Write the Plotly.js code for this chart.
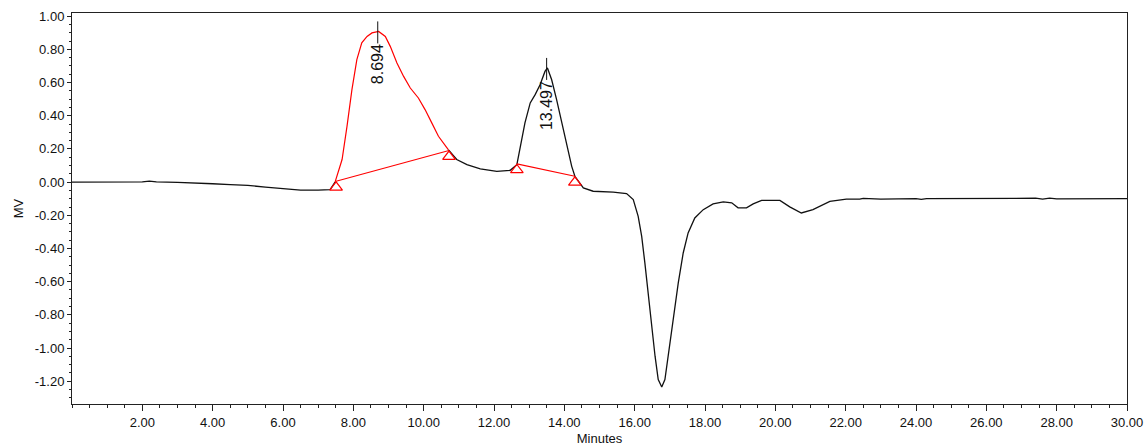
<!DOCTYPE html>
<html>
<head>
<meta charset="utf-8">
<script src="https://cdn.plot.ly/plotly-3.0.1.min.js"></script>
<style>html,body{margin:0;padding:0;background:#fff;}#chart{width:1144px;height:447px;}</style>
</head>
<body>
<div id="chart"></div>
<script>
// ---- Data ----
const timeMin = [0.0, 0.5, 1.0, 1.5, 2.0, 2.2, 2.4, 3.0, 3.5, 4.0, 4.5, 5.0, 5.5, 6.0, 6.5, 7.0, 7.34,
  7.48, 7.68, 7.82, 7.96, 8.10, 8.24, 8.39, 8.53, 8.72, 8.91, 9.05, 9.24, 9.43, 9.62, 9.85, 10.04, 10.23, 10.42, 10.70,
  10.94, 11.23, 11.61, 12.08, 12.46, 12.65,
  12.74, 12.88, 13.03, 13.17, 13.31, 13.45, 13.52, 13.64, 13.78, 13.93, 14.07, 14.21, 14.30, 14.54, 14.82, 15.39,
  15.77, 15.96, 16.10, 16.20, 16.29, 16.39, 16.48, 16.58, 16.67, 16.77, 16.86, 16.95, 17.10, 17.24, 17.38, 17.52,
  17.71, 17.95, 18.23, 18.52, 18.76, 18.94, 19.18, 19.37, 19.61, 20.13, 20.41, 20.74, 21.07, 21.55, 22.02,
  22.4, 22.5, 23.0, 24.0, 24.15, 24.3, 25.0, 26.0, 27.0, 27.4, 27.6, 27.8, 28.0, 29.0, 30.0];
const signalMV = [0.0, 0.0, 0.0, 0.0, 0.002, 0.006, 0.002, -0.002, -0.004, -0.01, -0.015, -0.02, -0.03, -0.04, -0.048, -0.048, -0.045,
  0.0, 0.136, 0.336, 0.557, 0.738, 0.839, 0.878, 0.899, 0.908, 0.878, 0.818, 0.718, 0.637, 0.567, 0.507, 0.437, 0.357, 0.276, 0.196,
  0.136, 0.105, 0.08, 0.065, 0.071, 0.105,
  0.196, 0.357, 0.477, 0.527, 0.587, 0.667, 0.688, 0.617, 0.497, 0.357, 0.216, 0.095, 0.035, -0.035, -0.055, -0.06,
  -0.069, -0.105, -0.206, -0.327, -0.487, -0.688, -0.889, -1.049, -1.19, -1.234, -1.19, -1.049, -0.808, -0.607, -0.427, -0.306,
  -0.216, -0.166, -0.131, -0.119, -0.125, -0.155, -0.155, -0.131, -0.11, -0.11, -0.149, -0.186, -0.166, -0.116, -0.103,
  -0.103, -0.098, -0.102, -0.100, -0.104, -0.100, -0.100, -0.099, -0.100, -0.097, -0.103, -0.097, -0.101, -0.100, -0.100];

// integrated first peak (drawn in red)
const peak1Time = [7.48, 7.68, 7.82, 7.96, 8.10, 8.24, 8.39, 8.53, 8.72, 8.91, 9.05, 9.24, 9.43, 9.62, 9.85, 10.04, 10.23, 10.42, 10.70];
const peak1MV   = [0.0, 0.136, 0.336, 0.557, 0.738, 0.839, 0.878, 0.899, 0.908, 0.878, 0.818, 0.718, 0.637, 0.567, 0.507, 0.437, 0.357, 0.276, 0.196];

// integration baselines (start / end points)
const base1Time = [7.51, 10.72];
const base1MV   = [0.005, 0.19];
const base2Time = [12.65, 14.30];
const base2MV   = [0.11, 0.035];

// peak retention-time labels
const peakLabels = ["8.694", "13.497"];
const peakTimes  = [8.694, 13.497];
const peakApexMV = [0.908, 0.688];

// axis ticks
const xTickVals = [2, 4, 6, 8, 10, 12, 14, 16, 18, 20, 22, 24, 26, 28, 30];
const xTickText = ["2.00","4.00","6.00","8.00","10.00","12.00","14.00","16.00","18.00","20.00","22.00","24.00","26.00","28.00","30.00"];
const yTickVals = [1.0, 0.8, 0.6, 0.4, 0.2, 0.0, -0.2, -0.4, -0.6, -0.8, -1.0, -1.2];
const yTickText = ["1.00","0.80","0.60","0.40","0.20","0.00","-0.20","-0.40","-0.60","-0.80","-1.00","-1.20"];

// ---- Layout constants ----
const W = 1144, H = 447;
const margin = {l: 72, r: 17, t: 13, b: 43, pad: 0};
const yRange = [-1.337, 1.019];
const pxPerUnit = (H - margin.t - margin.b) / (yRange[1] - yRange[0]);
const triOffset = 6 / pxPerUnit;   // triangle apex sits on the baseline point
const RED = '#ff0000', INK = '#111111';

// black trace: leave a gap where the red integrated peak is drawn
const p1Start = peak1Time[0], p1End = peak1Time[peak1Time.length - 1];
const blackMV = signalMV.map((v, i) => (timeMin[i] > p1Start && timeMin[i] < p1End) ? null : v);

const traces = [
  {x: timeMin, y: blackMV, mode: 'lines', line: {color: INK, width: 1.3}, connectgaps: false, hoverinfo: 'skip'},
  {x: peak1Time, y: peak1MV, mode: 'lines', line: {color: RED, width: 1.2}, hoverinfo: 'skip'},
  {x: base1Time, y: base1MV, mode: 'lines', line: {color: RED, width: 1.1}, hoverinfo: 'skip'},
  {x: base2Time, y: base2MV, mode: 'lines', line: {color: RED, width: 1.1}, hoverinfo: 'skip'},
  {x: base1Time.concat(base2Time), y: base1MV.concat(base2MV).map(v => v - triOffset), mode: 'markers',
   marker: {symbol: 'triangle-up-open', size: 11, color: RED, line: {color: RED, width: 1.2}}, hoverinfo: 'skip'}
];

const annotations = peakLabels.map((t, i) => ({
  x: peakTimes[i], y: peakApexMV[i], xref: 'x', yref: 'y', text: t, showarrow: false,
  textangle: -90, xanchor: 'center', yanchor: 'top', yshift: -11,
  font: {family: 'Liberation Sans, Arial, sans-serif', size: 16, color: INK}
}));

const shapes = peakTimes.map((t, i) => ({
  type: 'line', xref: 'x', yref: 'y', ysizemode: 'pixel', yanchor: peakApexMV[i],
  x0: t, x1: t, y0: -12, y1: 10, line: {color: INK, width: 1}
}));

const axisFont = {family: 'Liberation Sans, Arial, sans-serif', size: 13, color: INK};

const layout = {
  width: W, height: H, margin: margin,
  paper_bgcolor: '#fff', plot_bgcolor: '#fff', showlegend: false,
  font: axisFont,
  xaxis: {
    range: [0, 30], tickvals: xTickVals, ticktext: xTickText, ticks: 'outside', ticklen: 6, tickwidth: 1,
    tickcolor: '#222', showline: true, linecolor: '#222', linewidth: 1, mirror: true, showgrid: false, zeroline: false,
    tickfont: axisFont,
    minor: {dtick: 0.5, tick0: 0, ticks: 'outside', ticklen: 3, tickcolor: '#222', showgrid: false},
    title: {text: 'Minutes', font: axisFont, standoff: 5}
  },
  yaxis: {
    range: yRange, tickvals: yTickVals, ticktext: yTickText, ticks: 'outside', ticklen: 4, tickwidth: 1,
    tickcolor: '#222', showline: true, linecolor: '#222', linewidth: 1, mirror: true, showgrid: false, zeroline: false,
    tickfont: axisFont,
    minor: {dtick: 0.05, tick0: 0, ticks: 'outside', ticklen: 2, tickcolor: '#222', showgrid: false},
    title: {text: 'MV', font: axisFont, standoff: 8}
  },
  annotations: annotations,
  shapes: shapes
};

Plotly.newPlot('chart', traces, layout, {staticPlot: true, displayModeBar: false});
</script>
</body>
</html>
